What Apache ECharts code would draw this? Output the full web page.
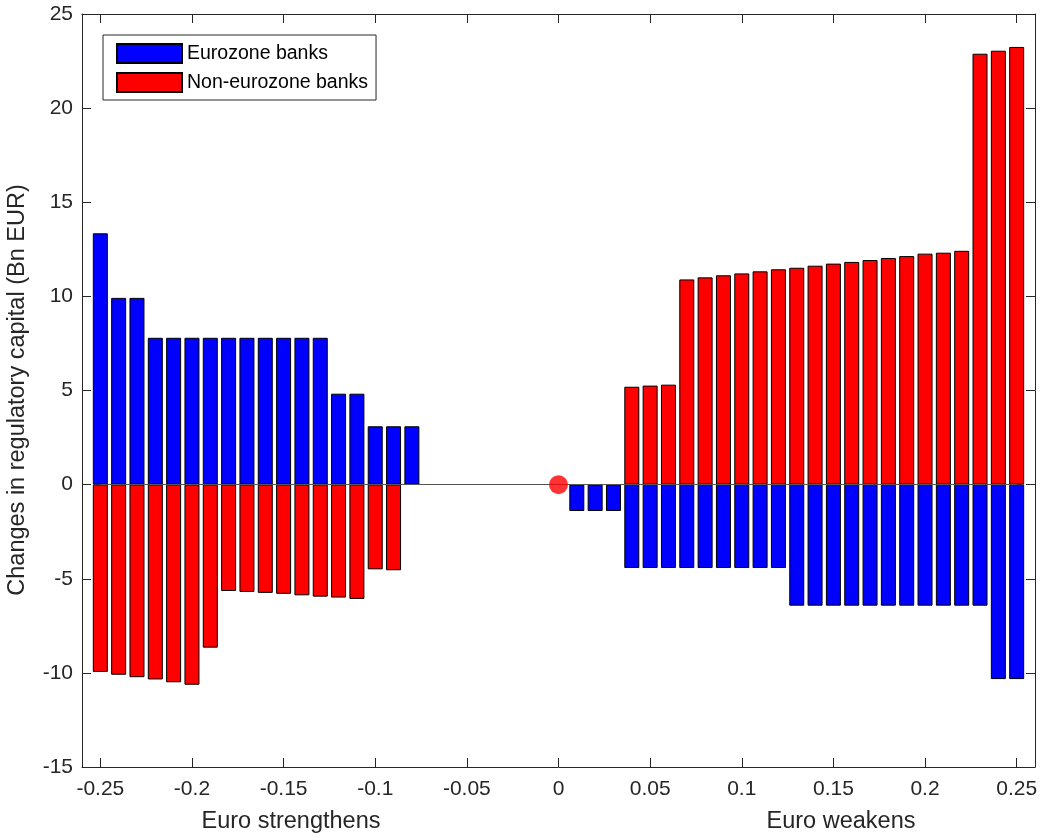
<!DOCTYPE html>
<html>
<head>
<meta charset="utf-8">
<script src="https://cdn.jsdelivr.net/npm/echarts@6/dist/echarts.min.js"></script>
<style>
  html, body { margin: 0; padding: 0; background: #fff; }
  #chart { width: 1043px; height: 838px; }
</style>
</head>
<body>
<div id="chart"></div>
<script>
// exchange rate shock (x) for each bar
var shocks = [-0.25, -0.24, -0.23, -0.22, -0.21, -0.20, -0.19, -0.18, -0.17, -0.16,
              -0.15, -0.14, -0.13, -0.12, -0.11, -0.10, -0.09, -0.08, -0.07, -0.06,
              -0.05, -0.04, -0.03, -0.02, -0.01, 0, 0.01, 0.02, 0.03, 0.04,
              0.05, 0.06, 0.07, 0.08, 0.09, 0.10, 0.11, 0.12, 0.13, 0.14,
              0.15, 0.16, 0.17, 0.18, 0.19, 0.20, 0.21, 0.22, 0.23, 0.24, 0.25];

var eurozone = [13.35, 9.92, 9.92, 7.8, 7.8, 7.8, 7.8, 7.8, 7.8, 7.8,
                7.8, 7.8, 7.8, 4.83, 4.83, 3.1, 3.1, 3.1, null, null,
                null, null, null, null, null, null, -1.4, -1.4, -1.4, -4.43,
                -4.43, -4.43, -4.43, -4.43, -4.43, -4.43, -4.43, -4.43, -6.43, -6.43,
                -6.43, -6.43, -6.43, -6.43, -6.43, -6.43, -6.43, -6.43, -6.43, -10.33, -10.33];

var nonEurozone = [-9.95, -10.1, -10.23, -10.35, -10.5, -10.63, -8.66, -5.65, -5.7, -5.75,
                   -5.8, -5.88, -5.95, -6.0, -6.07, -4.5, -4.55, null, null, null,
                   null, null, null, null, null, null, null, null, null, 5.2,
                   5.26, 5.31, 10.9, 11.01, 11.12, 11.22, 11.33, 11.44, 11.52, 11.63,
                   11.74, 11.83, 11.93, 12.04, 12.14, 12.27, 12.32, 12.42, 22.89, 23.05, 23.25];

var xTicks = [-0.25, -0.2, -0.15, -0.1, -0.05, 0, 0.05, 0.1, 0.15, 0.2, 0.25];
var origin = [0, 0];

var font = "'Liberation Sans', Arial, Helvetica, sans-serif";
var axisColor = '#262626';

function pairs(vals) {
    return shocks.map(function (x, i) { return [x, vals[i]]; });
}

var chart = echarts.init(document.getElementById('chart'));

var xBase = {
    type: 'value',
    min: -0.26,
    max: 0.26,
    splitLine: { show: false },
    axisLine: { show: true, onZero: false, lineStyle: { color: axisColor, width: 1 } },
    axisTick: { show: true, inside: true, length: 9, customValues: xTicks, lineStyle: { color: axisColor } }
};
var yBase = {
    type: 'value',
    min: -15,
    max: 25,
    interval: 5,
    splitLine: { show: false },
    axisLine: { show: true, onZero: false, lineStyle: { color: axisColor, width: 1 } },
    axisTick: { show: true, inside: true, length: 9, lineStyle: { color: axisColor } }
};

var option = {
    animation: false,
    backgroundColor: '#fff',
    textStyle: { fontFamily: font },
    grid: { left: 82, right: 8, top: 14, bottom: 71, containLabel: false },
    legend: {
        orient: 'vertical',
        left: 103,
        top: 35,
        padding: [8, 8, 7, 13],
        itemGap: 8,
        itemWidth: 65,
        itemHeight: 19,
        icon: 'rect',
        backgroundColor: '#fff',
        borderColor: axisColor,
        borderWidth: 1,
        textStyle: { fontSize: 19.5, color: '#000', fontFamily: font },
        data: ['Eurozone banks', 'Non-eurozone banks']
    },
    xAxis: [
        Object.assign({}, xBase, {
            position: 'bottom',
            axisLabel: { customValues: xTicks, fontSize: 21, color: axisColor, margin: 12, fontFamily: font }
        }),
        Object.assign({}, xBase, {
            position: 'top',
            axisLabel: { show: false }
        })
    ],
    yAxis: [
        Object.assign({}, yBase, {
            position: 'left',
            axisLabel: { fontSize: 21, color: axisColor, margin: 9, fontFamily: font }
        }),
        Object.assign({}, yBase, {
            position: 'right',
            axisLabel: { show: false }
        })
    ],
    graphic: [
        {
            type: 'text', x: 18, y: 390, rotation: Math.PI / 2,
            style: { text: 'Changes in regulatory capital (Bn EUR)', fontSize: 23.5, fill: axisColor,
                     fontFamily: font, align: 'center', verticalAlign: 'middle' }
        },
        {
            type: 'text', x: 291, y: 822,
            style: { text: 'Euro strengthens', fontSize: 23.5, fill: axisColor,
                     fontFamily: font, align: 'center', verticalAlign: 'middle' }
        },
        {
            type: 'text', x: 841, y: 822,
            style: { text: 'Euro weakens', fontSize: 23.5, fill: axisColor,
                     fontFamily: font, align: 'center', verticalAlign: 'middle' }
        }
    ],
    series: [
        {
            name: 'Eurozone banks',
            type: 'bar',
            barWidth: 15,
            barGap: '-100%',
            itemStyle: { color: '#0000ff', borderColor: '#000', borderWidth: 1 },
            data: pairs(eurozone),
            markLine: {
                silent: true,
                symbol: 'none',
                label: { show: false },
                lineStyle: { color: '#555', width: 1, type: 'solid' },
                data: [[{ coord: [shocks[0], 0] }, { coord: [shocks[shocks.length - 1], 0] }]]
            }
        },
        {
            name: 'Non-eurozone banks',
            type: 'bar',
            barWidth: 15,
            barGap: '-100%',
            itemStyle: { color: '#ff0000', borderColor: '#000', borderWidth: 1 },
            data: pairs(nonEurozone)
        },
        {
            name: 'origin',
            type: 'scatter',
            symbol: 'circle',
            symbolSize: 19,
            z: 5,
            itemStyle: { color: '#ff0000' },
            data: [origin]
        }
    ]
};

chart.setOption(option);
</script>
</body>
</html>
